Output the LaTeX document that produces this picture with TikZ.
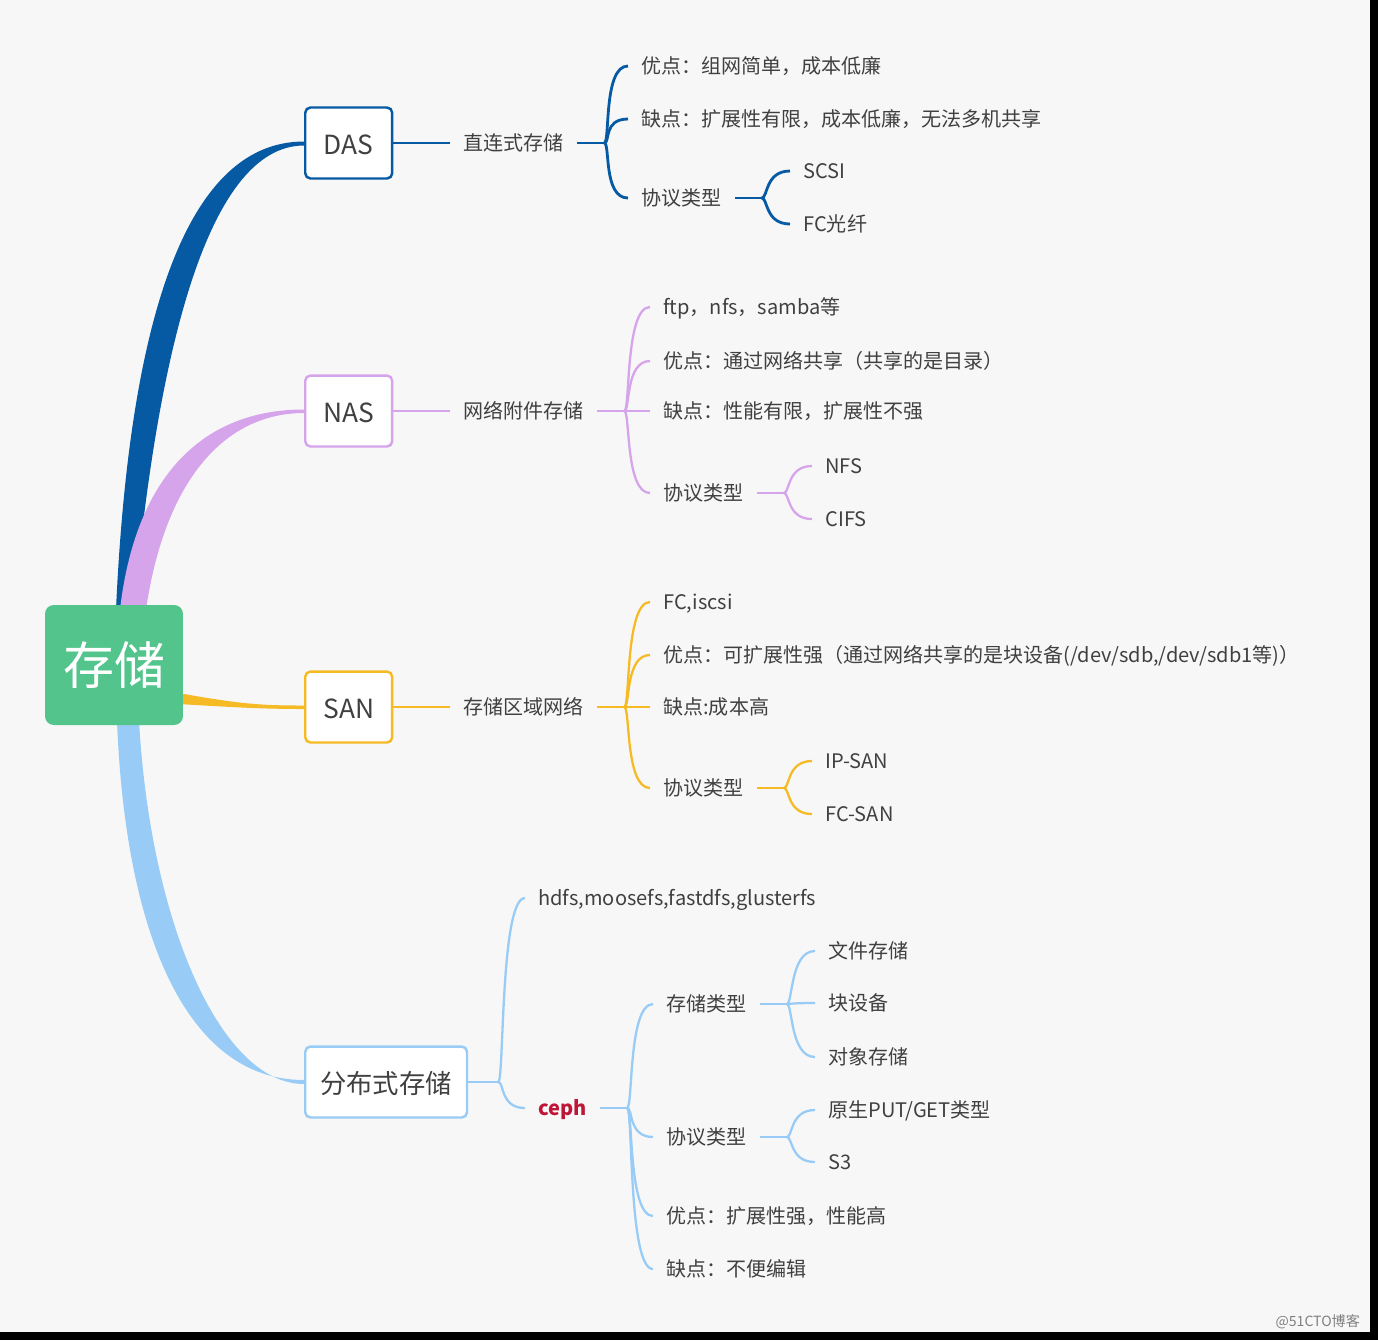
\documentclass[tikz,border=0pt]{standalone}
\usepackage{fontspec}
\setmainfont{Noto Sans CJK SC}
\usepackage{xcolor}
\definecolor{fundo}{RGB}{247,247,247}
\definecolor{azulD}{RGB}{6,90,164}
\definecolor{lilas}{RGB}{214,164,235}
\definecolor{ouro}{RGB}{245,186,36}
\definecolor{celeste}{RGB}{152,204,246}
\definecolor{verdeR}{RGB}{82,196,140}
\definecolor{cinza}{RGB}{64,64,64}
\definecolor{vinho}{RGB}{190,22,55}
\usepackage{tikz}
\usetikzlibrary{positioning,calc,backgrounds}

\begin{document}
\begin{tikzpicture}[x=0.02cm,y=-0.02cm,
            topico/.style={fill=white,line width=1.4pt,rounded corners=3pt,
              minimum width=1.74cm,minimum height=1.42cm,inner xsep=0.3cm,
              text height=1.28em,text depth=0pt,
              font=\fontsize{15}{18}\selectfont,text=cinza},
            folha/.style={anchor=west,inner xsep=0.26cm,inner ysep=1pt,
              text height=0.95em,text depth=0.05em,
              font=\fontsize{11.4}{14}\selectfont,text=cinza},
            ramo/.style={line width=1.3pt},
            chave/.style={ramo},
            ]
            \useasboundingbox (0,0) rectangle (1378,1340);

            \node[fill=verdeR,rounded corners=5pt,minimum width=2.76cm,minimum height=2.4cm,
            text=white,font=\fontsize{29}{32}\selectfont] (raiz) at (114,665) {存储};

            \node[topico,draw=azulD,anchor=west]  (das)  at (304,143)  {DAS};
            \node[topico,draw=lilas,anchor=west]  (nas)  at (304,411)  {NAS};
            \node[topico,draw=ouro,anchor=west]   (san)  at (304,707)  {SAN};
            \node[topico,draw=celeste,anchor=west](dist) at (304,1082) {分布式存储};

            % ramos principais
            \begin{scope}[on background layer]
            \fill[fundo] (0,0) rectangle (1370,1332);
            \fill[black] (1370,0) rectangle (1378,1340);
            \fill[black] (0,1332) rectangle (1378,1340);
            \fill[azulD] ($(raiz.north)+(2,5)$) .. controls +(12,-265) and +(-126,0) .. ($(das.west)+(0,-1.5)$)
            -- ($(das.west)+(0,2.5)$) .. controls +(-99,0) and +(22,-245) .. ($(raiz.north)+(20,5)$) -- cycle;
            \fill[lilas] ($(raiz.north)+(6,5)$) .. controls +(15,-130) and +(-104,0) .. ($(nas.west)+(0,-1.5)$)
            -- ($(nas.west)+(0,2)$) .. controls +(-79,0) and +(19,-130) .. ($(raiz.north)+(32,5)$) -- cycle;
            \fill[ouro] ($(raiz.east)+(-5,28)$) .. controls +(62,11) and +(-44,0) .. ($(san.west)+(0,-1.5)$)
            -- ($(san.west)+(0,2)$) .. controls +(-44,0) and +(52,3) .. ($(raiz.east)+(-5,39)$) -- cycle;
            \fill[celeste] ($(raiz.south)+(3,-5)$) .. controls +(8,210) and +(-119,0) .. ($(dist.west)+(0,-2)$)
            -- ($(dist.west)+(0,2)$) .. controls +(-84,0) and +(11,200) .. ($(raiz.south)+(25,-5)$) -- cycle;
            \end{scope}

            % DAS
            \node[folha,right=1.14cm of das] (das0) {直连式存储};
            \coordinate (jd) at ($(das0.east)+(27,0)$);
            \node[folha] (d1) at (628,66)  {优点：组网简单，成本低廉};
            \node[folha] (d2) at (628,119) {缺点：扩展性有限，成本低廉，无法多机共享};
            \node[folha] (d3) at (628,198) {协议类型};
            \coordinate (jd3) at ($(d3.east)+(27,0)$);
            \node[folha] (d31) at (790,171) {SCSI};
            \node[folha] (d32) at (790,224) {FC光纤};

            \draw[ramo,azulD,line width=1.6pt] (das) -- (das0);
            \draw[ramo,azulD,line width=1.6pt] (das0) -- (jd);
            \draw[ramo,azulD,line width=1.6pt] (d3) -- (jd3);
            \foreach \f in {d1,d2,d3}
            \draw[chave,azulD,line width=1.6pt] (jd) .. controls +(6,0) and +(-25,0) .. (\f.west);
            \foreach \f in {d31,d32}
            \draw[chave,azulD,line width=1.6pt] (jd3) .. controls +(6,0) and +(-25,0) .. (\f.west);

            % NAS
            \node[folha,right=1.14cm of nas] (nas0) {网络附件存储};
            \coordinate (jn) at ($(nas0.east)+(27,0)$);
            \node[folha] (n1) at (650,307) {ftp，nfs，samba等};
            \node[folha] (n2) at (650,361) {优点：通过网络共享（共享的是目录）};
            \node[folha] (n3) at (650,411) {缺点：性能有限，扩展性不强};
            \node[folha] (n4) at (650,493) {协议类型};
            \coordinate (jn4) at ($(n4.east)+(27,0)$);
            \node[folha] (n41) at (812,466) {NFS};
            \node[folha] (n42) at (812,519) {CIFS};

            \draw[ramo,lilas] (nas) -- (nas0);
            \draw[ramo,lilas] (nas0) -- (jn);
            \draw[ramo,lilas] (n4) -- (jn4);
            \foreach \f in {n1,n2,n3,n4}
            \draw[chave,lilas] (jn) .. controls +(6,0) and +(-25,0) .. (\f.west);
            \foreach \f in {n41,n42}
            \draw[chave,lilas] (jn4) .. controls +(6,0) and +(-25,0) .. (\f.west);

            % SAN
            \node[folha,right=1.14cm of san] (san0) {存储区域网络};
            \coordinate (js) at ($(san0.east)+(27,0)$);
            \node[folha] (s1) at (650,602) {FC,iscsi};
            \node[folha] (s2) at (650,655) {优点：可扩展性强（通过网络共享的是块设备(/dev/sdb,/dev/sdb1等)）};
            \node[folha] (s3) at (650,707) {缺点:成本高};
            \node[folha] (s4) at (650,788) {协议类型};
            \coordinate (js4) at ($(s4.east)+(27,0)$);
            \node[folha] (s41) at (812,761) {IP-SAN};
            \node[folha] (s42) at (812,814) {FC-SAN};

            \draw[ramo,ouro] (san) -- (san0);
            \draw[ramo,ouro] (san0) -- (js);
            \draw[ramo,ouro] (s4) -- (js4);
            \foreach \f in {s1,s2,s3,s4}
            \draw[chave,ouro] (js) .. controls +(6,0) and +(-25,0) .. (\f.west);
            \foreach \f in {s41,s42}
            \draw[chave,ouro] (js4) .. controls +(6,0) and +(-25,0) .. (\f.west);

            % distribuido
            \coordinate (jf) at ($(dist.east)+(30,0)$);
            \node[folha] (f1) at (525,898)  {hdfs,moosefs,fastdfs,glusterfs};
            \node[folha,text=vinho,font=\fontsize{11.4}{14}\selectfont\bfseries] (f2) at (525,1108) {ceph};
            \coordinate (jc) at ($(f2.east)+(27,0)$);
            \node[folha] (c1) at (653,1004) {存储类型};
            \node[folha] (c2) at (653,1137) {协议类型};
            \node[folha] (c3) at (653,1216) {优点：扩展性强，性能高};
            \node[folha] (c4) at (653,1269) {缺点：不便编辑};
            \coordinate (jc1) at ($(c1.east)+(27,0)$);
            \coordinate (jc2) at ($(c2.east)+(27,0)$);
            \node[folha] (c11) at (815,951)  {文件存储};
            \node[folha] (c12) at (815,1003) {块设备};
            \node[folha] (c13) at (815,1057) {对象存储};
            \node[folha] (c21) at (815,1110) {原生PUT/GET类型};
            \node[folha] (c22) at (815,1162) {S3};

            \draw[ramo,celeste] (dist) -- (jf);
            \draw[ramo,celeste] (f2) -- (jc);
            \draw[ramo,celeste] (c1) -- (jc1);
            \draw[ramo,celeste] (c2) -- (jc2);
            \foreach \f in {f1,f2}
            \draw[chave,celeste] (jf) .. controls +(6,0) and +(-25,0) .. (\f.west);
            \foreach \f in {c1,c2,c3,c4}
            \draw[chave,celeste] (jc) .. controls +(6,0) and +(-25,0) .. (\f.west);
            \foreach \f in {c11,c12,c13}
            \draw[chave,celeste] (jc1) .. controls +(6,0) and +(-25,0) .. (\f.west);
            \foreach \f in {c21,c22}
            \draw[chave,celeste] (jc2) .. controls +(6,0) and +(-25,0) .. (\f.west);

            \node[anchor=east,font=\fontsize{8}{9}\selectfont,text=gray] (marca) at (1366,1322) {@51CTO博客};
          \end{tikzpicture}
\end{document}
